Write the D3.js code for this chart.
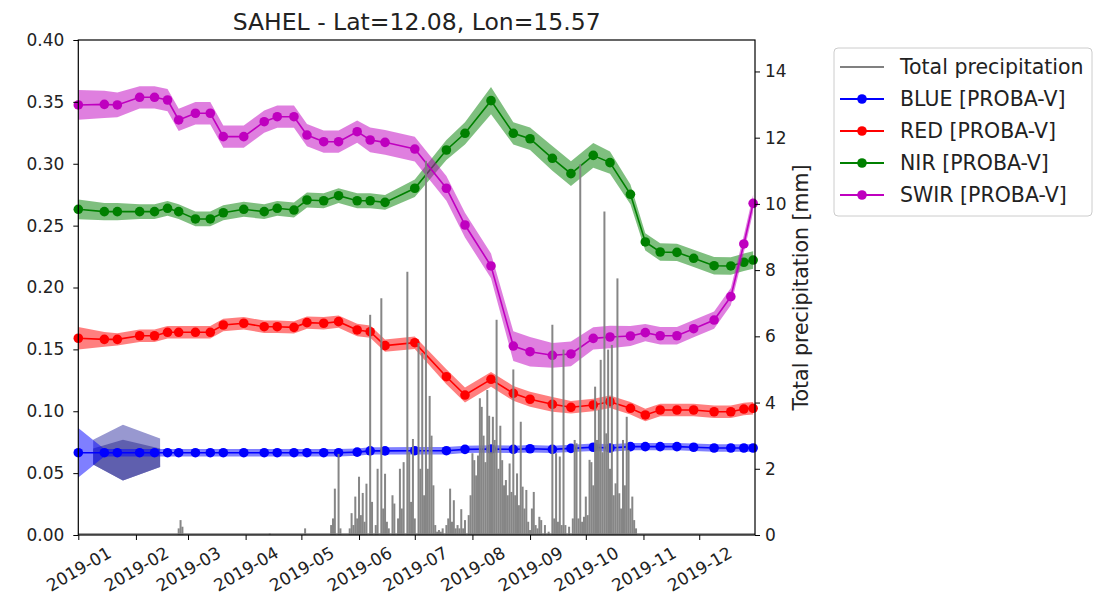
<!DOCTYPE html>
<html>
<head>
<meta charset="utf-8">
<script src="https://cdn.jsdelivr.net/npm/d3@7"></script>
<style>
  body { margin: 0; background: #fff; }
  svg { display: block; font-family: "DejaVu Sans", sans-serif; }
</style>
</head>
<body>
<div id="chart"></div>
<script>
"use strict";

// PROBA-V acquisition dates (shared by all bands)
var obsDates = ['2019-01-01','2019-01-15','2019-01-22','2019-02-03','2019-02-11','2019-02-18','2019-02-24',
    '2019-03-05','2019-03-13','2019-03-20','2019-03-31','2019-04-11','2019-04-18','2019-04-27','2019-05-04',
    '2019-05-13','2019-05-21','2019-05-31','2019-06-07','2019-06-15','2019-07-01','2019-07-18','2019-07-28',
    '2019-08-11','2019-08-23','2019-09-01','2019-09-13','2019-09-23','2019-10-05','2019-10-14','2019-10-25',
    '2019-11-02','2019-11-10','2019-11-19','2019-11-28','2019-12-09','2019-12-18','2019-12-25','2019-12-30'];

var blueVals = [0.0665,0.0665,0.0665,0.0665,0.0665,0.0665,0.0665,0.0665,0.0665,0.0665,0.0665,0.0665,0.0665,
    0.0665,0.0665,0.0665,0.0665,0.067,0.068,0.068,0.0681,0.0681,0.0692,0.0695,0.0692,0.0697,0.0692,0.070,
    0.0709,0.0703,0.0714,0.0714,0.0714,0.0714,0.0709,0.0703,0.0703,0.0703,0.0703];
var blueStd = [0.020,0.003,0.003,0.003,0.003,0.003,0.003,0.003,0.003,0.003,0.003,0.003,0.003,0.003,0.003,
    0.003,0.003,0.003,0.003,0.003,0.003,0.003,0.003,0.003,0.003,0.003,0.003,0.003,0.003,0.003,0.003,0.003,
    0.003,0.003,0.003,0.003,0.003,0.003,0.003];

var redVals = [0.159,0.1581,0.1581,0.161,0.161,0.1638,0.1638,0.1638,0.1638,0.1697,0.1711,0.1683,0.1683,
    0.1678,0.1716,0.1711,0.1724,0.1657,0.1643,0.153,0.1554,0.1279,0.1131,0.1258,0.1145,0.1097,0.1056,
    0.1032,0.1051,0.1077,0.1024,0.097,0.101,0.101,0.101,0.0996,0.0996,0.1018,0.1024];
var redStd = [0.009,0.006,0.005,0.005,0.005,0.005,0.005,0.005,0.005,0.005,0.005,0.005,0.005,0.005,0.005,
    0.005,0.005,0.005,0.005,0.005,0.005,0.006,0.006,0.006,0.006,0.006,0.006,0.005,0.005,0.005,0.005,0.005,
    0.005,0.005,0.005,0.005,0.005,0.005,0.005];

var nirVals = [0.2632,0.2613,0.2613,0.2613,0.2613,0.264,0.2613,0.2554,0.2554,0.2604,0.2632,0.2613,0.264,
    0.2626,0.2707,0.2701,0.2742,0.2701,0.2701,0.2688,0.2802,0.3111,0.3246,0.351,0.3246,0.3202,0.3044,
    0.292,0.3068,0.3009,0.2753,0.2368,0.2287,0.2284,0.2236,0.2176,0.2174,0.2204,0.2222];
var nirStd = [0.008,0.007,0.007,0.006,0.006,0.006,0.006,0.006,0.006,0.006,0.006,0.006,0.006,0.006,0.006,
    0.006,0.006,0.006,0.006,0.006,0.007,0.008,0.009,0.011,0.009,0.009,0.010,0.010,0.010,0.009,0.008,0.007,
    0.007,0.007,0.007,0.007,0.007,0.007,0.007];

var swirVals = [0.3475,0.348,0.3475,0.3537,0.3537,0.3515,0.3354,0.3408,0.3408,0.3219,0.3219,0.334,0.338,
    0.338,0.3232,0.3178,0.3178,0.3259,0.3192,0.3173,0.3119,0.2802,0.2505,0.2174,0.1527,0.1481,0.1452,
    0.1463,0.1589,0.16,0.1608,0.1635,0.161,0.161,0.1667,0.1737,0.1926,0.2352,0.268];
var swirStd = [0.012,0.011,0.010,0.009,0.009,0.009,0.009,0.009,0.009,0.009,0.009,0.009,0.009,0.009,0.009,
    0.009,0.009,0.009,0.010,0.010,0.010,0.010,0.010,0.010,0.012,0.012,0.010,0.010,0.009,0.009,0.008,0.007,
    0.007,0.007,0.007,0.007,0.007,0.007,0.007];

// odd overlapping patch seen on the BLUE band in early 2019
var ghostDates = ['2019-01-09','2019-01-25','2019-02-14'];
var ghostHi = [0.077, 0.089, 0.078];
var ghostMid = [0.070, 0.077, 0.070];
var ghostLo = [0.057, 0.044, 0.055];

// daily total precipitation [mm]: day offset from 2019-01-01, days not listed are 0
var rainDay = [54,55,56,103,122,136,137,138,140,141,146,147,148,149,150,151,152,153,154,155,157,158,160,161,
    163,164,165,166,167,169,170,172,173,174,175,177,178,179,180,181,183,184,185,186,187,188,189,190,191,192,
    193,194,195,196,198,199,200,201,202,203,204,205,206,207,208,210,211,212,213,214,215,216,217,218,219,220,
    221,222,223,224,225,226,227,228,229,230,231,232,233,234,235,236,237,238,239,240,241,242,243,244,245,246,
    247,248,249,251,253,255,256,257,258,259,260,261,262,264,266,267,268,269,270,271,272,273,274,275,276,277,
    278,279,280,281,282,283,284,285,286,287,288,289,290,291,292,293,294,295,296,297,298,299,300];
var rainMm = [0.2,0.45,0.25,0.05,0.2,0.3,0.5,1.4,2.45,0.2,0.2,0.66,0.3,1.16,0.5,1.76,0.6,1.27,0.4,1.55,6.65,1.0,
    0.3,2.0,7.15,0.8,1.85,0.4,0.2,1.2,0.95,0.5,2.0,0.8,2.2,7.95,2.5,1.0,2.9,0.5,5.8,2.0,5.5,1.2,11.3,2.0,4.2,
    3.0,1.5,0.3,0.1,0.15,0.1,0.2,0.3,0.5,1.4,0.4,1.05,0.2,0.3,0.2,0.78,0.2,0.45,0.6,1.2,2.47,2.26,1.8,2.4,4.13,
    3.87,3.0,2.2,4.38,3.6,2.5,3.57,2.87,6.5,2.0,3.3,2.26,1.5,1.66,1.2,2.16,1.3,5.0,1.2,1.86,0.9,3.42,1.46,0.8,
    1.36,0.4,0.15,0.8,1.3,0.3,0.2,0.55,0.45,0.3,0.1,6.35,0.5,2.47,0.4,2.37,0.3,5.6,0.3,0.25,0.5,2.87,2.77,0.5,
    11.2,0.4,0.55,1.16,0.6,2.27,2.2,1.5,4.48,2.87,3.78,5.29,2.5,9.77,3.07,5.6,2.0,5.74,1.2,1.56,7.75,1.26,0.8,
    2.87,1.5,3.57,2.57,0.8,1.16,0.45,0.2];

var leftTicks = [0, 0.05, 0.10, 0.15, 0.20, 0.25, 0.30, 0.35, 0.40];
var rightTicks = [0, 2, 4, 6, 8, 10, 12, 14];
var monthTicks = ['2019-01-01','2019-02-01','2019-03-01','2019-04-01','2019-05-01','2019-06-01',
    '2019-07-01','2019-08-01','2019-09-01','2019-10-01','2019-11-01','2019-12-01'];

var chartTitle = 'SAHEL - Lat=12.08, Lon=15.57';
var rightLabel = 'Total precipitation [mm]';

var seriesList = [
    {name: 'BLUE [PROBA-V]', vals: blueVals, std: blueStd, color: '#0000ff'},
    {name: 'RED [PROBA-V]', vals: redVals, std: redStd, color: '#ff0000'},
    {name: 'NIR [PROBA-V]', vals: nirVals, std: nirStd, color: '#008000'},
    {name: 'SWIR [PROBA-V]', vals: swirVals, std: swirStd, color: '#bf00bf'}
];

var parse = d3.utcParse('%Y-%m-%d');
var yearStart = parse('2019-01-01');

var padL = 78.3, padR = 755, padT = 40, padB = 535;

var svg = d3.select('#chart').append('svg')
    .attr('width', 1094)
    .attr('height', 601);

var x = d3.scaleUtc()
    .domain([yearStart, parse('2019-12-31')])
    .range([padL, padR]);
var yL = d3.scaleLinear().domain([0, 0.4]).range([padB, padT]);
var yR = d3.scaleLinear().domain([0, 14.95]).range([padB, padT]);

var plot = svg.append('g').attr('class', 'plot');

// blue band patch
var ghost = ghostDates.map(function (d, i) {
    return {date: parse(d), hi: ghostHi[i], mid: ghostMid[i], lo: ghostLo[i]};
});
plot.append('path')
    .datum(ghost)
    .attr('d', d3.area().x(function (d) { return x(d.date); })
        .y0(function (d) { return yL(d.lo); }).y1(function (d) { return yL(d.hi); }))
    .attr('fill', '#9898d0');
plot.append('path')
    .datum(ghost)
    .attr('d', d3.area().x(function (d) { return x(d.date); })
        .y0(function (d) { return yL(d.lo); }).y1(function (d) { return yL(d.mid); }))
    .attr('fill', '#5f5fae');

seriesList.forEach(function (s) {
    var pts = obsDates.map(function (d, i) {
        return {date: parse(d), v: s.vals[i], sd: s.std[i]};
    });

    plot.append('path')
        .datum(pts)
        .attr('d', d3.area()
            .x(function (d) { return x(d.date); })
            .y0(function (d) { return yL(d.v - d.sd); })
            .y1(function (d) { return yL(d.v + d.sd); }))
        .attr('fill', s.color)
        .attr('fill-opacity', 0.5);

    plot.append('path')
        .datum(pts)
        .attr('d', d3.line()
            .x(function (d) { return x(d.date); })
            .y(function (d) { return yL(d.v); }))
        .attr('fill', 'none')
        .attr('stroke', s.color)
        .attr('stroke-width', 1.6);

    plot.selectAll(null)
        .data(pts)
        .enter().append('circle')
        .attr('cx', function (d) { return x(d.date); })
        .attr('cy', function (d) { return yL(d.v); })
        .attr('r', 4.8)
        .attr('fill', s.color);
});

// precipitation on the twin axis, drawn on top
var daily = d3.range(365).map(function () { return 0; });
rainDay.forEach(function (d, i) { daily[d] = rainMm[i]; });

plot.append('line')
    .attr('x1', x(yearStart)).attr('x2', x(d3.utcDay.offset(yearStart, 364)))
    .attr('y1', yR(0) - 1).attr('y2', yR(0) - 1)
    .attr('stroke', '#808080').attr('stroke-width', 1.5);

plot.selectAll(null)
    .data(daily.map(function (v, i) { return {date: d3.utcDay.offset(yearStart, i), mm: v}; })
        .filter(function (d) { return d.mm > 0; }))
    .enter().append('rect')
    .attr('x', function (d) { return x(d.date) - 1; })
    .attr('width', 2)
    .attr('y', function (d) { return yR(d.mm); })
    .attr('height', function (d) { return yR(0) - yR(d.mm); })
    .attr('fill', '#808080')
    .attr('fill-opacity', 0.95);

// axes
function styleAxis(g, size) {
    g.select('.domain').remove();
    g.selectAll('line').attr('stroke', '#000').attr('stroke-width', 1);
    g.selectAll('text').attr('font-size', size).attr('fill', '#222')
        .attr('font-family', '"DejaVu Sans", sans-serif');
}

var axL = svg.append('g')
    .attr('transform', 'translate(' + padL + ',0)')
    .call(d3.axisLeft(yL).tickValues(leftTicks).tickFormat(d3.format('.2f')).tickSize(5).tickPadding(9));
styleAxis(axL, 17);

var axR = svg.append('g')
    .attr('transform', 'translate(' + padR + ',0)')
    .call(d3.axisRight(yR).tickValues(rightTicks).tickFormat(d3.format('d')).tickSize(5).tickPadding(5));
styleAxis(axR, 17);

var axB = svg.append('g')
    .attr('transform', 'translate(0,' + padB + ')')
    .call(d3.axisBottom(x).tickValues(monthTicks.map(parse)).tickFormat(d3.utcFormat('%Y-%m')).tickSize(5));
styleAxis(axB, 17);
axB.selectAll('text')
    .attr('x', 0)
    .attr('y', 34)
    .attr('dy', '0.35em')
    .attr('text-anchor', 'middle')
    .attr('transform', 'rotate(-30,0,34)');

// frame
svg.append('rect')
    .attr('x', padL).attr('y', padT)
    .attr('width', padR - padL).attr('height', padB - padT)
    .attr('fill', 'none').attr('stroke', '#000').attr('stroke-width', 1.2);

svg.append('text')
    .attr('x', (padL + padR) / 2).attr('y', 30)
    .attr('text-anchor', 'middle')
    .attr('font-size', 23.5)
    .attr('fill', '#222')
    .text(chartTitle);

svg.append('text')
    .attr('transform', 'translate(808,' + ((padT + padB) / 2) + ') rotate(-90)')
    .attr('text-anchor', 'middle')
    .attr('font-size', 20.5)
    .attr('fill', '#222')
    .text(rightLabel);

// legend
var legend = svg.append('g').attr('transform', 'translate(834,48)');
legend.append('rect')
    .attr('width', 258).attr('height', 168).attr('rx', 4)
    .attr('fill', '#fff').attr('fill-opacity', 0.8)
    .attr('stroke', '#cccccc').attr('stroke-width', 1);

var legItems = [{name: 'Total precipitation', color: '#808080', marker: false}].concat(
    seriesList.map(function (s) { return {name: s.name, color: s.color, marker: true}; }));

legItems.forEach(function (it, i) {
    var row = legend.append('g').attr('transform', 'translate(0,' + (19 + i * 32) + ')');
    row.append('line')
        .attr('x1', 6).attr('x2', 50)
        .attr('stroke', it.color).attr('stroke-width', 2);
    if (it.marker) {
        row.append('circle').attr('cx', 28).attr('r', 4.8).attr('fill', it.color);
    }
    row.append('text')
        .attr('x', 66).attr('dy', '0.35em')
        .attr('font-size', 20.5)
        .attr('fill', '#222')
        .text(it.name);
});
</script>
</body>
</html>
